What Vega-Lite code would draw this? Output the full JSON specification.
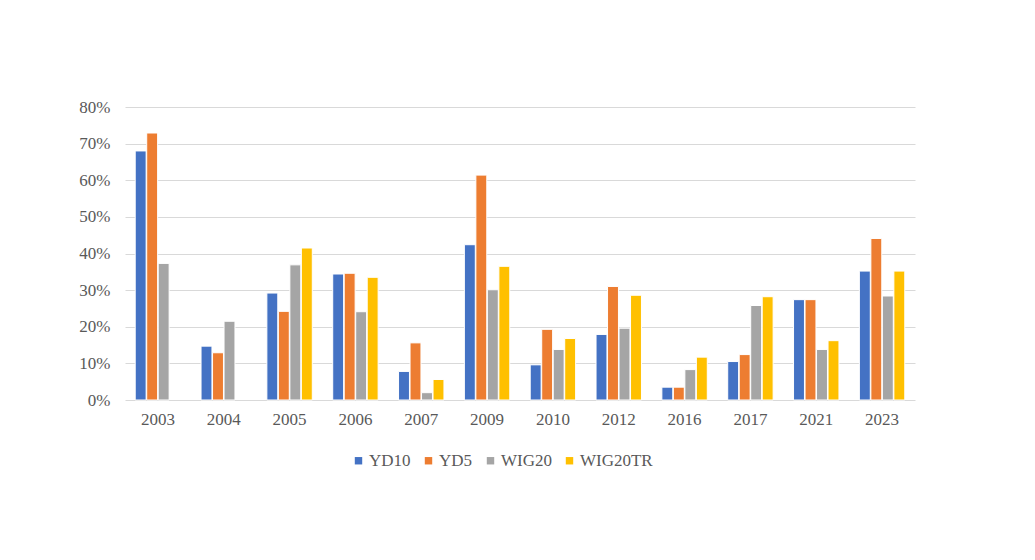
{
  "$schema": "https://vega.github.io/schema/vega-lite/v6.json",
  "width": 790,
  "height": 293,
  "autosize": {"type": "none"},
  "padding": {"left": 125, "top": 107, "right": 120, "bottom": 160},
  "background": "white",
  "data": {
    "values": [
      {"year": "2003", "series": "YD10", "value": 0.680},
      {"year": "2003", "series": "YD5", "value": 0.729},
      {"year": "2003", "series": "WIG20", "value": 0.373},
      {"year": "2004", "series": "YD10", "value": 0.147},
      {"year": "2004", "series": "YD5", "value": 0.129},
      {"year": "2004", "series": "WIG20", "value": 0.215},
      {"year": "2005", "series": "YD10", "value": 0.292},
      {"year": "2005", "series": "YD5", "value": 0.242},
      {"year": "2005", "series": "WIG20", "value": 0.369},
      {"year": "2005", "series": "WIG20TR", "value": 0.415},
      {"year": "2006", "series": "YD10", "value": 0.344},
      {"year": "2006", "series": "YD5", "value": 0.346},
      {"year": "2006", "series": "WIG20", "value": 0.241},
      {"year": "2006", "series": "WIG20TR", "value": 0.335},
      {"year": "2007", "series": "YD10", "value": 0.078},
      {"year": "2007", "series": "YD5", "value": 0.156},
      {"year": "2007", "series": "WIG20", "value": 0.020},
      {"year": "2007", "series": "WIG20TR", "value": 0.056},
      {"year": "2009", "series": "YD10", "value": 0.424},
      {"year": "2009", "series": "YD5", "value": 0.614},
      {"year": "2009", "series": "WIG20", "value": 0.301},
      {"year": "2009", "series": "WIG20TR", "value": 0.365},
      {"year": "2010", "series": "YD10", "value": 0.096},
      {"year": "2010", "series": "YD5", "value": 0.193},
      {"year": "2010", "series": "WIG20", "value": 0.138},
      {"year": "2010", "series": "WIG20TR", "value": 0.168},
      {"year": "2012", "series": "YD10", "value": 0.179},
      {"year": "2012", "series": "YD5", "value": 0.310},
      {"year": "2012", "series": "WIG20", "value": 0.196},
      {"year": "2012", "series": "WIG20TR", "value": 0.286},
      {"year": "2016", "series": "YD10", "value": 0.035},
      {"year": "2016", "series": "YD5", "value": 0.035},
      {"year": "2016", "series": "WIG20", "value": 0.083},
      {"year": "2016", "series": "WIG20TR", "value": 0.117},
      {"year": "2017", "series": "YD10", "value": 0.105},
      {"year": "2017", "series": "YD5", "value": 0.124},
      {"year": "2017", "series": "WIG20", "value": 0.258},
      {"year": "2017", "series": "WIG20TR", "value": 0.282},
      {"year": "2021", "series": "YD10", "value": 0.274},
      {"year": "2021", "series": "YD5", "value": 0.274},
      {"year": "2021", "series": "WIG20", "value": 0.138},
      {"year": "2021", "series": "WIG20TR", "value": 0.162},
      {"year": "2023", "series": "YD10", "value": 0.352},
      {"year": "2023", "series": "YD5", "value": 0.441},
      {"year": "2023", "series": "WIG20", "value": 0.284},
      {"year": "2023", "series": "WIG20TR", "value": 0.352}
    ]
  },
  "mark": {"type": "bar", "stroke": "white", "strokeWidth": 1},
  "encoding": {
    "x": {
      "field": "year",
      "type": "nominal",
      "sort": null,
      "scale": {"paddingInner": 0.31, "paddingOuter": 0.155},
      "axis": {
        "title": null,
        "labelAngle": 0,
        "labelFont": "Liberation Serif",
        "labelFontSize": 17,
        "labelColor": "#595959",
        "labelPadding": 11,
        "ticks": false,
        "domain": false
      }
    },
    "xOffset": {
      "field": "series",
      "type": "nominal",
      "sort": ["YD10", "YD5", "WIG20", "WIG20TR"],
      "scale": {"domain": ["YD10", "YD5", "WIG20", "WIG20TR"], "paddingInner": 0.05}
    },
    "y": {
      "field": "value",
      "type": "quantitative",
      "scale": {"domain": [0, 0.8]},
      "axis": {
        "title": null,
        "format": ".0%",
        "values": [0, 0.1, 0.2, 0.3, 0.4, 0.5, 0.6, 0.7, 0.8],
        "labelFont": "Liberation Serif",
        "labelFontSize": 17,
        "labelColor": "#595959",
        "labelPadding": 15,
        "ticks": false,
        "domain": false,
        "grid": true,
        "gridColor": "#d9d9d9",
        "gridWidth": 1
      }
    },
    "color": {
      "field": "series",
      "type": "nominal",
      "sort": ["YD10", "YD5", "WIG20", "WIG20TR"],
      "scale": {
        "domain": ["YD10", "YD5", "WIG20", "WIG20TR"],
        "range": ["#4472C4", "#ED7D31", "#A5A5A5", "#FFC000"]
      },
      "legend": {
        "title": null,
        "orient": "none",
        "direction": "horizontal",
        "legendX": 225,
        "legendY": 345,
        "symbolType": "square",
        "symbolSize": 55,
        "symbolStrokeWidth": 0,
        "labelFont": "Liberation Serif",
        "labelFontSize": 17,
        "labelColor": "#595959",
        "labelOffset": 2,
        "columnPadding": 9
      }
    }
  },
  "config": {
    "view": {"stroke": null}
  }
}
